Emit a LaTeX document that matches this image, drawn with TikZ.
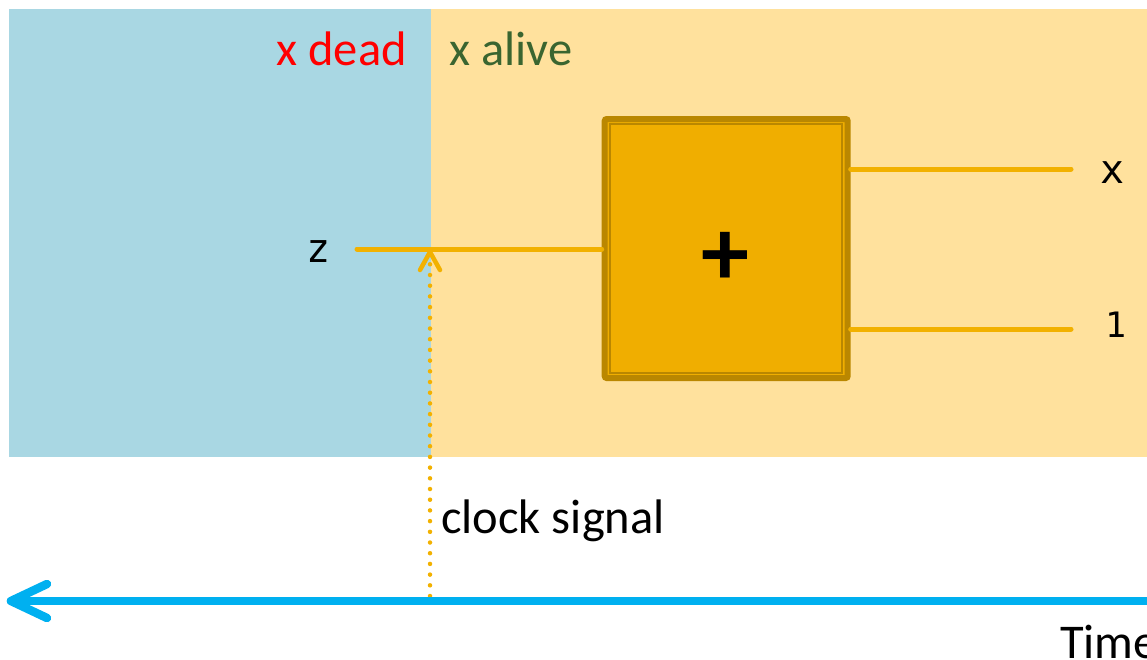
\documentclass[tikz,border=0pt]{standalone}
\usepackage{fontspec}
\setmainfont{Carlito}
\newfontfamily\monof{DejaVu Sans Mono}
\definecolor{deadblue}{HTML}{A9D7E3}
\definecolor{alivebg}{HTML}{FFE19D}
\definecolor{gold}{HTML}{F0AE00}
\definecolor{goldline}{HTML}{F2B100}
\definecolor{golddark}{HTML}{BA8700}
\definecolor{timeblue}{HTML}{00B0F0}
\definecolor{alivegreen}{HTML}{3A6530}
\tikzset{
  lbl/.style={inner sep=0pt, font=\fontsize{48.5}{56}\selectfont},
  monolbl/.style={inner sep=0pt, font=\monof\fontsize{40}{48}\selectfont},
  wire/.style={draw=goldline, line width=5pt, line cap=round},
  clockline/.style={draw=goldline, line width=4.5pt, line cap=round, dash pattern=on 0pt off 10.7pt},
  chevron/.style={draw=goldline, line width=4.5pt, line cap=round, line join=round},
  timeline/.style={draw=timeblue, line width=8.5pt, line cap=round, line join=round},
}
\begin{document}
\begin{tikzpicture}[x=1pt,y=-1pt]
\useasboundingbox (0,0) rectangle (1147,659);
% backgrounds
\fill[deadblue] (9,9) rectangle (431,457);
\fill[alivebg] (431,9) rectangle (1147,457);
% labels
\node[lbl, text=red, anchor=base east] (dead) at (407,65) {x dead};
\node[lbl, text=alivegreen, anchor=base west] (alive) at (449,65) {x alive};
% adder box
\node[draw=golddark, fill=gold, line width=6pt, rounded corners=2pt,
      minimum width=243pt, minimum height=259pt, inner sep=0pt] (add) at (726.2,248.5) {};
\node[draw=golddark, line width=1.8pt, minimum width=232pt, minimum height=249pt,
      inner sep=0pt] (addin) at (726.2,248.5) {};
\node[inner sep=0pt, font=\bfseries\fontsize{96}{96}\selectfont] (plus) at (725.5,258.5) {+};
% inputs/outputs
\node[monolbl, anchor=base] (z) at (319,262) {z};
\node[monolbl, anchor=base] (x) at (1113,183) {x};
\node[monolbl, anchor=base, font=\monof\fontsize{35}{42}\selectfont] (one) at (1116,337) {1};
\coordinate (zend) at (357,249);
\coordinate (xend) at (1071,169);
\coordinate (oneend) at (1071,329);
\draw[wire] (zend) -- (add.west |- zend);
\draw[wire] (add.east |- xend) -- (xend);
\draw[wire] (add.east |- oneend) -- (oneend);
% clock signal
\coordinate (clkbase) at (430,596);
\coordinate (clktip) at (430,252);
\draw[clockline] (clkbase) -- ([yshift=-10pt]clktip);
\draw[chevron] (420,270) -- (clktip) -- (440,270);
\node[lbl, anchor=base west] (clk) at (441,533) {clock signal};
% time axis
\coordinate (tstart) at (1160,601);
\coordinate (tend) at (11,601);
\draw[timeline] (tstart) -- (tend);
\draw[timeline] (47,584) -- (tend) -- (47,618);
\node[lbl, anchor=base west] (time) at (1060,658) {Time};
\end{tikzpicture}
\end{document}
